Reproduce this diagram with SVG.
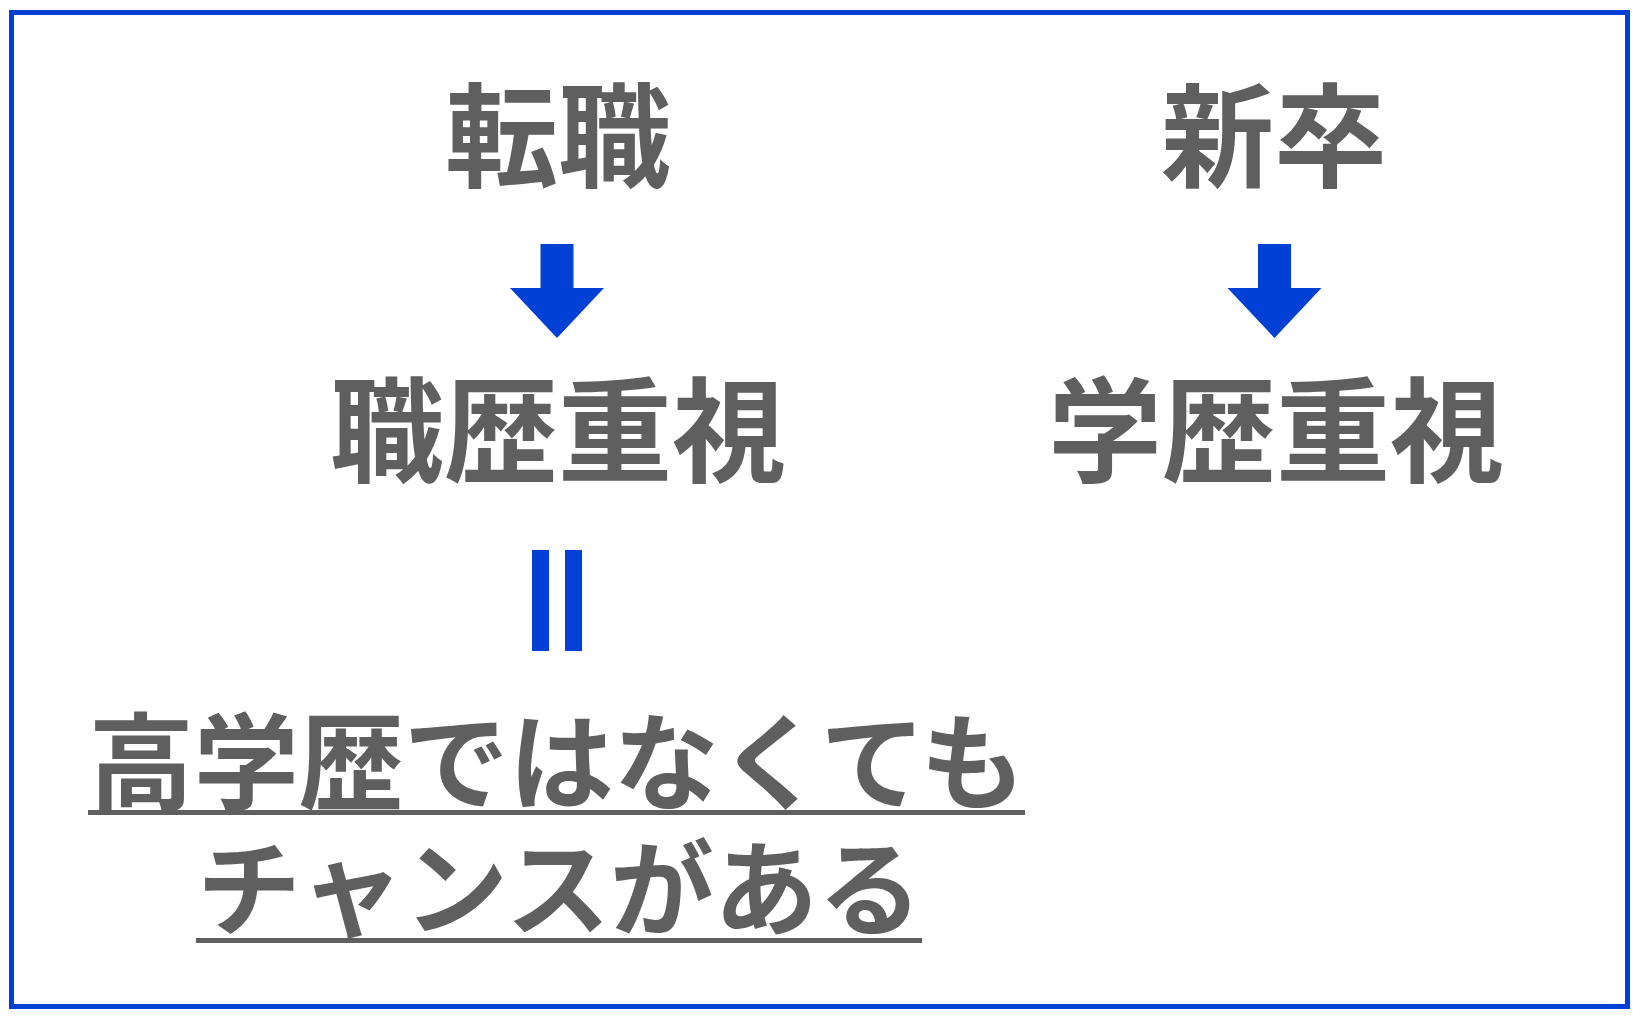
<svg xmlns="http://www.w3.org/2000/svg" width="1642" height="1020" viewBox="0 0 1642 1020">
<style>
.t{font-family:"Noto Sans CJK JP","Noto Sans",sans-serif;font-weight:700;fill:#5f5f5f;text-anchor:middle}
.big{font-size:113px}
.big2{font-size:114px}
.mid{font-size:105px}
.mid2{font-size:104px}
.blue{fill:#0040d4}
.ul{stroke:#5f5f5f;stroke-width:5}
</style>
<defs>
<path id="arrow" d="M-16.5,0 H16.5 V44 H47 L0,94 L-47,44 H-16.5 Z"/>
</defs>
<rect x="0" y="0" width="1642" height="1020" fill="#ffffff"/>
<rect x="11.5" y="12.5" width="1616" height="994" fill="none" stroke="#0040d4" stroke-width="5"/>
<g id="node-tenshoku"><text class="t big" x="558" y="178">転職</text></g>
<g id="node-shinsotsu"><text class="t big" x="1274" y="178">新卒</text></g>
<g id="node-shokureki"><text class="t big2" x="558" y="473">職歴重視</text></g>
<g id="node-gakureki"><text class="t big2" x="1276" y="473">学歴重視</text></g>
<g id="node-chance">
<text class="t mid" x="557" y="801">高学歴ではなくても</text>
<line class="ul" x1="88" y1="812.5" x2="1025" y2="812.5"/>
<text class="t mid2" x="559.5" y="928">チャンスがある</text>
<line class="ul" x1="196" y1="940.5" x2="922" y2="940.5"/>
</g>
<g id="connectors">
<use href="#arrow" class="blue" x="557" y="244"/>
<use href="#arrow" class="blue" x="1274.5" y="244"/>
<rect class="blue" x="532" y="550" width="17" height="101"/>
<rect class="blue" x="565" y="550" width="17" height="101"/>
</g>
</svg>
